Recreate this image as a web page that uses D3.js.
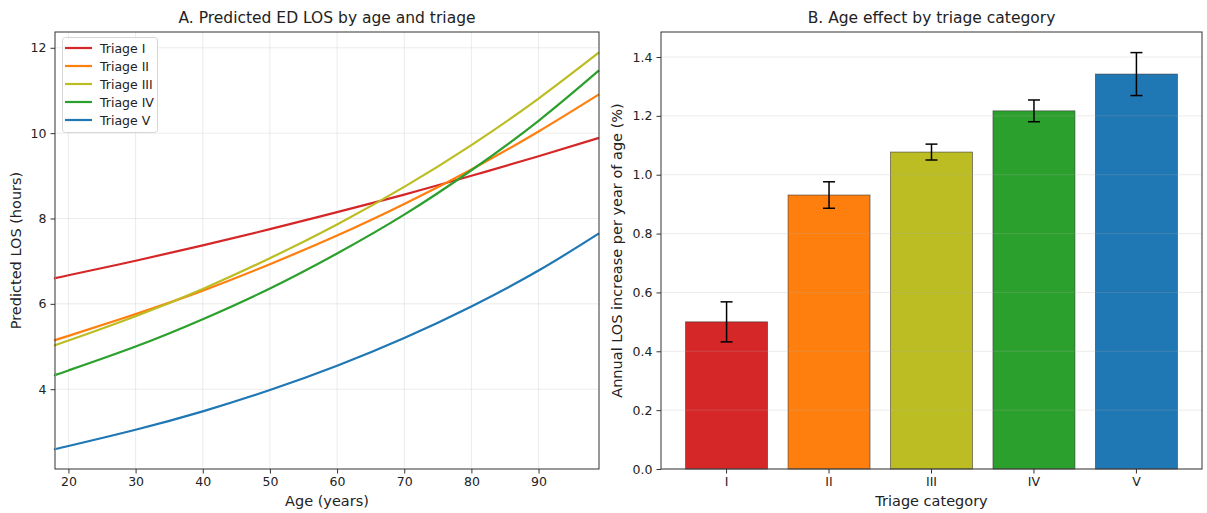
<!DOCTYPE html>
<html>
<head>
<meta charset="utf-8">
<script src="https://cdn.jsdelivr.net/npm/d3@7"></script>
<style>
  body { margin: 0; background: #fff; }
  text { font-family: "DejaVu Sans", sans-serif; fill: #222; }
</style>
</head>
<body>
<script>
var W = 1207, H = 513;

// ---- data ----
var ages = [18, 20, 30, 40, 50, 60, 70, 80, 90, 99];
var triageNames = ["Triage I", "Triage II", "Triage III", "Triage IV", "Triage V"];
var losI   = [6.60, 6.67, 7.01, 7.37, 7.75, 8.15, 8.56, 9.00, 9.46, 9.89];
var losII  = [5.15, 5.25, 5.76, 6.31, 6.93, 7.60, 8.34, 9.15, 10.04, 10.91];
var losIII = [5.03, 5.14, 5.71, 6.35, 7.07, 7.86, 8.74, 9.72, 10.81, 11.89];
var losIV  = [4.33, 4.44, 5.00, 5.64, 6.36, 7.18, 8.09, 9.13, 10.29, 11.47];
var losV   = [2.60, 2.67, 3.05, 3.48, 3.98, 4.55, 5.20, 5.94, 6.78, 7.65];
var ageTicks = [20, 30, 40, 50, 60, 70, 80, 90];
var losTicks = [4, 6, 8, 10, 12];

var cats = ["I", "II", "III", "IV", "V"];
var effect = [0.500, 0.931, 1.077, 1.217, 1.342];
var effectErr = [0.068, 0.045, 0.027, 0.037, 0.073];
var effTicks = [0.0, 0.2, 0.4, 0.6, 0.8, 1.0, 1.2, 1.4];

var colors = ["#d62728", "#ff7f0e", "#bcbd22", "#2ca02c", "#1f77b4"];

var svg = d3.select("body").append("svg").attr("width", W).attr("height", H);

// ---------- panel A ----------
var A = {l: 55, r: 599, t: 32, b: 469};
var xA = d3.scaleLinear().domain([18, 99]).range([A.l, A.r]);
var yA = d3.scaleLinear().domain([2.13, 12.37]).range([A.b, A.t]);
var gA = svg.append("g");

// grid
gA.append("g").selectAll("line").data(ageTicks).enter().append("line")
  .attr("x1", function(d){ return xA(d); }).attr("x2", function(d){ return xA(d); })
  .attr("y1", A.t).attr("y2", A.b)
  .attr("stroke", "#b0b0b0").attr("stroke-opacity", 0.3).attr("stroke-width", 0.8);
gA.append("g").selectAll("line").data(losTicks).enter().append("line")
  .attr("y1", function(d){ return yA(d); }).attr("y2", function(d){ return yA(d); })
  .attr("x1", A.l).attr("x2", A.r)
  .attr("stroke", "#b0b0b0").attr("stroke-opacity", 0.3).attr("stroke-width", 0.8);

var series = [losI, losII, losIII, losIV, losV];
var line = d3.line()
  .x(function(d, i){ return xA(ages[i]); })
  .y(function(d){ return yA(d); })
  .curve(d3.curveNatural);
gA.append("g").selectAll("path").data(series).enter().append("path")
  .attr("d", line).attr("fill", "none")
  .attr("stroke", function(d, i){ return colors[i]; })
  .attr("stroke-width", 2.2);

// axes
var axA = d3.axisBottom(xA).tickValues(ageTicks).tickSize(4.5).tickPadding(4);
gA.append("g").attr("transform", "translate(0," + A.b + ")").call(axA);
var ayA = d3.axisLeft(yA).tickValues(losTicks).tickSize(4.5).tickPadding(4);
gA.append("g").attr("transform", "translate(" + A.l + ",0)").call(ayA);
gA.append("rect").attr("x", A.l).attr("y", A.t).attr("width", A.r - A.l).attr("height", A.b - A.t)
  .attr("fill", "none").attr("stroke", "#333").attr("stroke-width", 1);

gA.append("text").attr("x", (A.l + A.r) / 2).attr("y", 23).attr("text-anchor", "middle")
  .attr("font-size", "15.5px").text("A. Predicted ED LOS by age and triage");
gA.append("text").attr("x", (A.l + A.r) / 2).attr("y", 506).attr("text-anchor", "middle")
  .attr("font-size", "14.5px").text("Age (years)");
gA.append("text").attr("transform", "translate(21," + (A.t + A.b) / 2 + ") rotate(-90)")
  .attr("text-anchor", "middle").attr("font-size", "14.5px").text("Predicted LOS (hours)");

// legend
var lg = gA.append("g");
lg.append("rect").attr("x", 62.5).attr("y", 37.5).attr("width", 95).attr("height", 95).attr("rx", 3)
  .attr("fill", "#fff").attr("fill-opacity", 0.8).attr("stroke", "#d6d6d6");
triageNames.forEach(function(n, i){
  var yy = 48 + i * 18;
  lg.append("line").attr("x1", 65).attr("x2", 92).attr("y1", yy).attr("y2", yy)
    .attr("stroke", colors[i]).attr("stroke-width", 2.2);
  lg.append("text").attr("x", 100).attr("y", yy + 4.5).attr("font-size", "12.5px").text(n);
});

// ---------- panel B ----------
var B = {l: 661, r: 1202, t: 32, b: 469};
var xB = d3.scaleBand().domain(cats).range([B.l, B.r]).paddingInner(0.2).paddingOuter(0.24);
var yB = d3.scaleLinear().domain([0, 1.485]).range([B.b, B.t]);
var gB = svg.append("g");

gB.append("g").selectAll("rect").data(effect).enter().append("rect")
  .attr("x", function(d, i){ return xB(cats[i]); })
  .attr("width", xB.bandwidth())
  .attr("y", function(d){ return yB(d); })
  .attr("height", function(d){ return yB(0) - yB(d); })
  .attr("fill", function(d, i){ return colors[i]; })
  .attr("stroke", "#333").attr("stroke-opacity", 0.7).attr("stroke-width", 0.8);

gB.append("g").selectAll("line").data(effTicks).enter().append("line")
  .attr("y1", function(d){ return yB(d); }).attr("y2", function(d){ return yB(d); })
  .attr("x1", B.l).attr("x2", B.r)
  .attr("stroke", "#b0b0b0").attr("stroke-opacity", 0.3).attr("stroke-width", 0.8);

var eb = gB.append("g").attr("stroke", "#000").attr("stroke-width", 1.5);
effect.forEach(function(v, i){
  var cx = xB(cats[i]) + xB.bandwidth() / 2;
  var lo = yB(v - effectErr[i]), hi = yB(v + effectErr[i]);
  eb.append("line").attr("x1", cx).attr("x2", cx).attr("y1", lo).attr("y2", hi);
  eb.append("line").attr("x1", cx - 6).attr("x2", cx + 6).attr("y1", lo).attr("y2", lo);
  eb.append("line").attr("x1", cx - 6).attr("x2", cx + 6).attr("y1", hi).attr("y2", hi);
});

var axB = d3.axisBottom(xB).tickSize(4.5).tickPadding(4);
gB.append("g").attr("transform", "translate(0," + B.b + ")").call(axB);
var ayB = d3.axisLeft(yB).tickValues(effTicks).tickFormat(d3.format(".1f")).tickSize(4.5).tickPadding(4);
gB.append("g").attr("transform", "translate(" + B.l + ",0)").call(ayB);
gB.append("rect").attr("x", B.l).attr("y", B.t).attr("width", B.r - B.l).attr("height", B.b - B.t)
  .attr("fill", "none").attr("stroke", "#333").attr("stroke-width", 1);

gB.append("text").attr("x", (B.l + B.r) / 2).attr("y", 23).attr("text-anchor", "middle")
  .attr("font-size", "15.5px").text("B. Age effect by triage category");
gB.append("text").attr("x", (B.l + B.r) / 2).attr("y", 506).attr("text-anchor", "middle")
  .attr("font-size", "14.5px").text("Triage category");
gB.append("text").attr("transform", "translate(622," + (B.t + B.b) / 2 + ") rotate(-90)")
  .attr("text-anchor", "middle").attr("font-size", "14.5px").text("Annual LOS increase per year of age (%)");

// tidy axes: matplotlib look
svg.selectAll(".domain").remove();
svg.selectAll(".tick line").attr("stroke", "#333");
svg.selectAll(".tick text").attr("font-size", "12.5px").attr("fill", "#222")
  .attr("font-family", "DejaVu Sans, sans-serif");
</script>
</body>
</html>
